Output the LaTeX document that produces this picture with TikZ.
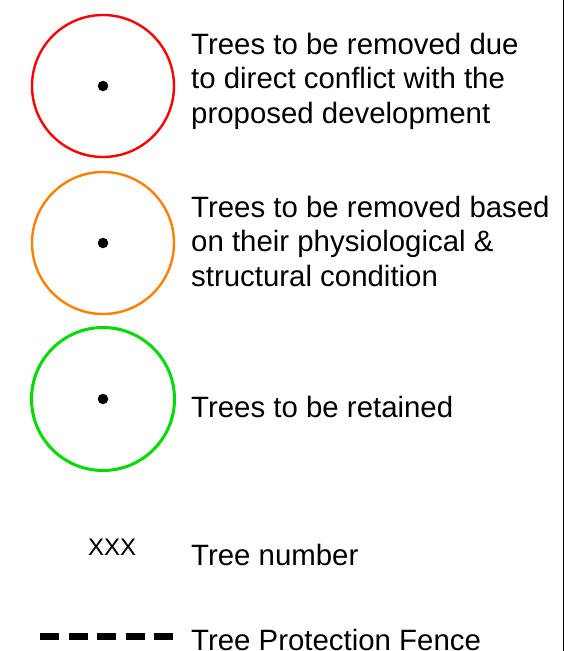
\documentclass[tikz,border=0pt]{standalone}
\usepackage{fontspec}
\setmainfont{Liberation Sans}
\definecolor{treered}{RGB}{255,0,0}
\definecolor{treeorange}{RGB}{255,128,0}
\definecolor{treegreen}{RGB}{0,220,0}
\begin{document}
\begin{tikzpicture}[x=1pt,y=-1pt,
  canopy/.style={circle,minimum size=142pt,inner sep=0pt,line width=2.4pt},
  stem/.style={circle,fill=black,minimum size=10.5pt,inner sep=0pt},
  legendtext/.style={anchor=base west,inner sep=0pt,align=left,
    font=\fontsize{29.4}{34.5}\selectfont}]
\useasboundingbox (0,0) rectangle (573,651);
\draw[line width=1.5pt] (563.5,0) coordinate (ftop) -- (563.5,651) coordinate (fbot);
% red
\node[canopy,draw=treered] (c1) at (103,86) {};
\node[stem] (d1) at (103,86) {};
\node[legendtext] (t1) at (191,123) {Trees to be removed due\\to direct conflict with the\\proposed development};
% orange
\node[canopy,draw=treeorange] (c2) at (103,243) {};
\node[stem] (d2) at (103,243) {};
\node[legendtext] (t2) at (191,286) {Trees to be removed based\\on their physiological \&\\structural condition};
% green
\node[canopy,draw=treegreen,line width=3pt,minimum size=143pt] (c3) at (103,399) {};
\node[stem] (d3) at (103,399) {};
\node[legendtext] (t3) at (191,417) {Trees to be retained};
% tree number
\node[anchor=base west,inner sep=0pt,font=\fontsize{24}{28}\selectfont] (xxx) at (88,555) {XXX};
\node[legendtext] (t4) at (191,565.7) {Tree number};
% fence
\coordinate (f1) at (40,636);
\coordinate (f2) at (174,636);
\draw[line width=7pt,dash pattern=on 19pt off 9.5pt] (f1) -- (f2);
\node[legendtext] (t5) at (191,650) {Tree Protection Fence};
\end{tikzpicture}
\end{document}
